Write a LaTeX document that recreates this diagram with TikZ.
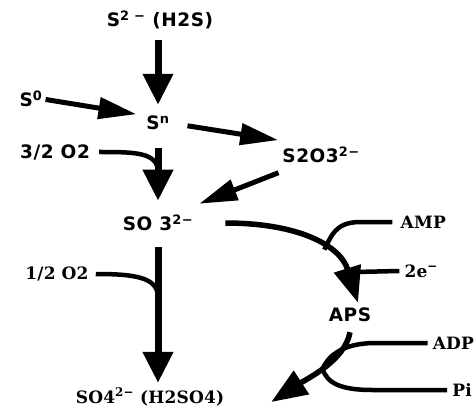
\documentclass[tikz,border=0pt]{standalone}
\usepackage{fontspec}
\usetikzlibrary{arrows.meta}
\newfontfamily\labsans{DejaVu Sans}[LetterSpace=3]
\newfontfamily\labserif{DejaVu Serif}[LetterSpace=1]
\begin{document}
\begin{tikzpicture}[x=1pt,y=-1pt,
  lab/.style={font=\labsans\bfseries\fontsize{18.5}{18.5}\selectfont, inner sep=0pt},
  serlab/.style={font=\labserif\bfseries\fontsize{17}{17}\selectfont, inner sep=0pt},
  vert/.style={line width=7pt, -{Triangle[length=31pt,width=29pt]}},
  diag/.style={line width=5pt, -{Triangle[length=38pt,width=21pt]}},
  curv/.style={line width=5.5pt, -{Triangle[length=36pt,width=27pt]}},
  side/.style={line width=4.5pt}]
\useasboundingbox (0,0) rectangle (476,414);

% species
\node[lab] (h2s) at (160,20) {S\textsuperscript{2 −} (H2S)};
\node[lab] (s0) at (31,99) {S\textsuperscript{0}};
\node[lab] (sn) at (158,123) {S\textsuperscript{n}};
\node[lab] (o2a) at (55,152) {3/2 O2};
\node[lab] (s2o3) at (321,155) {S2O3\textsuperscript{2−}};
\node[lab] (so3) at (158,223) {SO 3\textsuperscript{2−}};
\node[serlab] (o2b) at (57,274) {1/2 O2};
\node[serlab] (so4) at (150,397) {SO4\textsuperscript{2−} (H2SO4)};
\node[serlab, anchor=east] (amp) at (446,222) {AMP};
\node[serlab, anchor=east] (e2) at (438,271) {2e\textsuperscript{−}};
\node[lab] (aps) at (350,315) {APS};
\node[serlab, anchor=east] (adp) at (474,343) {ADP};
\node[serlab, anchor=east] (pi) at (472,390) {Pi};

% junctions of the side reactants
\coordinate (j-o2a) at (158,172);
\coordinate (j-o2b) at (158,297);

% main chain
\draw[vert, shorten <=11pt, shorten >=11pt] (h2s.south -| sn) -- (sn.north);
\draw[diag, shorten <=3pt, shorten >=10pt] (s0.east) -- (sn.north west);
\draw[diag, shorten <=18pt, shorten >=4pt] (sn.east) -- ([yshift=6pt]s2o3.north west);
\draw[diag, shorten <=4pt] ([yshift=-8pt]s2o3.south west) -- ([shift={(6pt,11pt)}]so3.north east);
\draw[vert, shorten <=18pt, shorten >=14pt] (sn.south) -- (sn.south |- so3.north);
\draw[vert, shorten <=16pt, shorten >=5pt] (so3.south) -- (so3.south |- so4.north);

% oxygen inputs
\draw[side] ([xshift=9pt]o2a.east) .. controls +(35,0) and +(0,-20) .. (j-o2a);
\draw[side] ([xshift=7pt]o2b.east) .. controls +(38,0) and +(0,-20) .. (j-o2b);

% sulfite to APS
\draw[curv] ([xshift=32pt]so3.east) .. controls +(72,0) and +(-18,-58) ..
  coordinate[pos=0.6] (j-amp) coordinate[pos=0.8] (j-e)
  ([shift={(8pt,5pt)}]aps.north);
\draw[side] ([xshift=-8pt]amp.west) -- ++(-32,0) .. controls +(-26,0) and +(7,-13) .. (j-amp);
\draw[side] ([xshift=-5pt]e2.west) -- (j-e);

% APS to sulfate
\draw[curv] ([yshift=-10pt]aps.south) .. controls +(-5,28) and +(37,-24) ..
  coordinate[pos=0.5] (j-adp)
  ([shift={(47pt,-5pt)}]so4.east);
\draw[side] ([xshift=-5pt]adp.west) -- ++(-55,0) .. controls +(-28,1) and +(7,-15) .. (j-adp);
\draw[side] ([xshift=-5pt]pi.west) -- (372,390) .. controls +(-30,0) and +(4,15) .. (j-adp);
\end{tikzpicture}
\end{document}
